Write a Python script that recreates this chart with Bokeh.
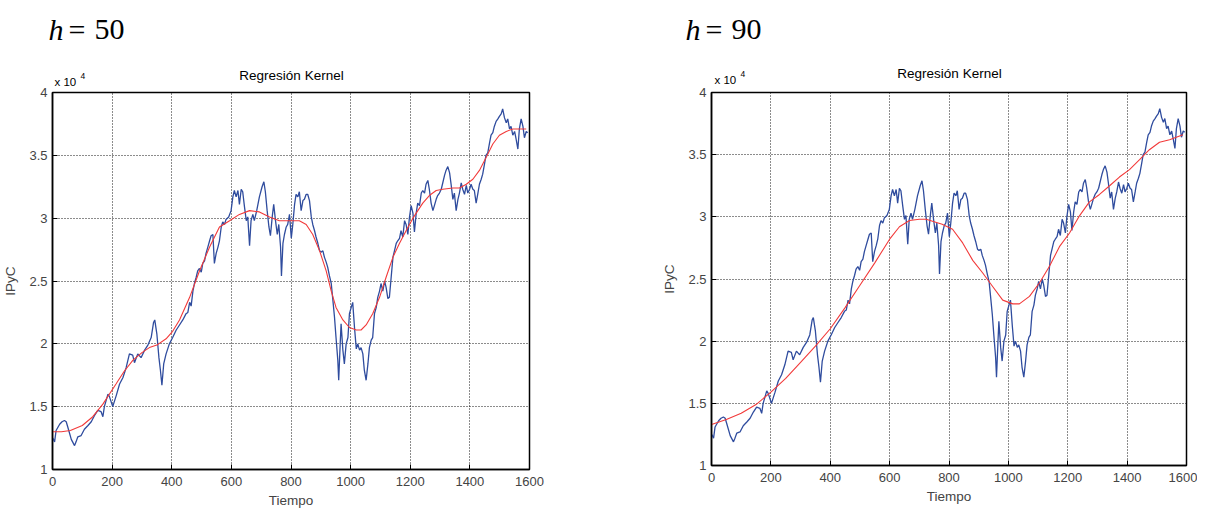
from bokeh.plotting import figure
from bokeh.layouts import row, column
from bokeh.models import FixedTicker, NumeralTickFormatter, Range1d
from bokeh.core.properties import value
from bokeh.embed import file_html
from bokeh.resources import INLINE

# ---- data (IPyC in units of 10^4) ----
tiempo = [1, 7, 12, 24, 32, 40, 46, 51, 63, 74, 79, 85, 96, 107, 119, 130, 141, 152, 163, 169,
          174, 186, 191, 202, 214, 225, 236, 247, 258, 269, 275, 286, 297, 309, 320, 331, 339, 343,
          350, 357, 362, 367, 373, 381, 392, 403, 415, 426, 437, 448, 454, 460, 465, 471, 476, 482,
          487, 493, 499, 504, 510, 515, 521, 527, 532, 538, 543, 549, 555, 560, 566, 571, 577, 582,
          591, 599, 605, 610, 616, 622, 627, 633, 638, 644, 650, 655, 661, 666, 672, 677, 685, 694,
          703, 709, 714, 720, 726, 731, 737, 742, 748, 754, 759, 765, 768, 773, 778, 784, 789, 795,
          801, 806, 812, 817, 823, 828, 834, 840, 845, 851, 856, 862, 868, 873, 879, 884, 890, 896,
          901, 907, 912, 918, 923, 929, 935, 940, 946, 951, 957, 960, 965, 968, 974, 979, 985, 991,
          996, 1002, 1007, 1013, 1019, 1024, 1030, 1035, 1041, 1046, 1052, 1058, 1063, 1069, 1074,
          1080, 1086, 1091, 1097, 1102, 1108, 1114, 1119, 1125, 1130, 1136, 1142, 1147, 1153, 1158,
          1164, 1169, 1175, 1181, 1186, 1192, 1197, 1203, 1209, 1214, 1220, 1225, 1231, 1237, 1242,
          1248, 1253, 1259, 1264, 1270, 1276, 1281, 1287, 1292, 1298, 1304, 1309, 1315, 1320, 1326,
          1332, 1337, 1343, 1348, 1354, 1360, 1365, 1371, 1376, 1382, 1388, 1393, 1399, 1404, 1410,
          1415, 1421, 1427, 1432, 1438, 1443, 1449, 1454, 1460, 1466, 1471, 1477, 1482, 1488, 1494,
          1499, 1505, 1510, 1516, 1522, 1527, 1533, 1538, 1544, 1550, 1555, 1561, 1566, 1572, 1578,
          1583, 1589, 1594]
ipyc = [1.25, 1.22, 1.31, 1.36, 1.38, 1.39, 1.38, 1.34, 1.24, 1.19, 1.22, 1.26, 1.27, 1.32, 1.35,
        1.38, 1.43, 1.47, 1.46, 1.42, 1.50, 1.60, 1.58, 1.50, 1.59, 1.68, 1.73, 1.81, 1.92, 1.91,
        1.85, 1.92, 1.89, 1.95, 1.99, 2.05, 2.17, 2.19, 2.08, 1.89, 1.79, 1.67, 1.84, 1.92, 2.00,
        2.05, 2.11, 2.15, 2.19, 2.24, 2.25, 2.33, 2.30, 2.42, 2.48, 2.53, 2.58, 2.60, 2.57, 2.64,
        2.66, 2.72, 2.77, 2.82, 2.86, 2.87, 2.64, 2.72, 2.77, 2.82, 2.93, 2.97, 2.95, 2.99, 3.01,
        3.06, 3.17, 3.22, 3.17, 3.22, 3.11, 3.23, 3.21, 3.09, 2.98, 3.01, 2.78, 2.98, 3.03, 2.98,
        3.06, 3.17, 3.25, 3.29, 3.21, 3.06, 2.93, 2.86, 3.01, 3.11, 2.98, 2.87, 2.95, 2.77, 2.54,
        2.80, 2.87, 2.93, 2.95, 3.03, 2.84, 2.95, 3.11, 3.19, 3.17, 3.21, 3.06, 3.14, 3.15, 3.19,
        3.19, 3.14, 3.01, 2.95, 2.90, 2.85, 2.80, 2.74, 2.73, 2.74, 2.69, 2.65, 2.61, 2.54, 2.48,
        2.36, 2.21, 2.05, 1.87, 1.71, 2.00, 2.16, 1.95, 1.84, 2.00, 2.05, 2.24, 2.29, 2.33, 2.13,
        1.96, 2.00, 1.95, 1.97, 1.92, 1.79, 1.71, 1.84, 1.97, 2.03, 2.05, 2.24, 2.29, 2.37, 2.42,
        2.48, 2.42, 2.50, 2.45, 2.36, 2.37, 2.53, 2.69, 2.74, 2.80, 2.82, 2.84, 2.90, 2.85, 2.98,
        2.95, 2.87, 3.00, 3.10, 3.04, 2.89, 3.04, 3.12, 3.10, 3.20, 3.22, 3.20, 3.27, 3.30, 3.23,
        3.12, 3.06, 3.10, 3.15, 3.18, 3.20, 3.23, 3.28, 3.34, 3.38, 3.41, 3.36, 3.27, 3.15, 3.20,
        3.06, 3.15, 3.20, 3.28, 3.23, 3.19, 3.26, 3.20, 3.23, 3.27, 3.23, 3.22, 3.12, 3.20, 3.27,
        3.31, 3.35, 3.43, 3.50, 3.52, 3.60, 3.66, 3.68, 3.73, 3.77, 3.79, 3.81, 3.83, 3.87, 3.80,
        3.76, 3.79, 3.71, 3.73, 3.66, 3.69, 3.63, 3.55, 3.71, 3.79, 3.73, 3.64, 3.69, 3.68]

t_h50 = [0, 30, 60, 100, 135, 169, 213, 240, 270, 300, 325, 350, 381, 403, 426, 460, 493, 527,
         560, 594, 627, 661, 694, 728, 761, 795, 828, 851, 873, 896, 918, 935, 951, 974, 996, 1019,
         1035, 1052, 1074, 1097, 1119, 1142, 1164, 1186, 1209, 1220, 1242, 1264, 1287, 1309, 1343,
         1365, 1388, 1410, 1432, 1454, 1477, 1499, 1522, 1544, 1566, 1589]
k_h50 = [1.30, 1.30, 1.31, 1.35, 1.42, 1.52, 1.68, 1.78, 1.87, 1.93, 1.97, 1.99, 2.04, 2.10, 2.19,
         2.37, 2.58, 2.77, 2.93, 2.98, 3.03, 3.06, 3.05, 3.01, 2.98, 2.98, 2.98, 2.95, 2.87, 2.74,
         2.58, 2.42, 2.29, 2.19, 2.13, 2.11, 2.11, 2.15, 2.24, 2.37, 2.53, 2.69, 2.80, 2.90, 3.00,
         3.04, 3.12, 3.18, 3.22, 3.23, 3.24, 3.24, 3.27, 3.31, 3.38, 3.48, 3.59, 3.66, 3.69, 3.71,
         3.71, 3.71]

t_h90 = [0, 50, 100, 150, 200, 250, 300, 350, 400, 450, 500, 550, 600, 633, 667, 700, 723, 777,
         812, 846, 880, 913, 947, 981, 1015, 1037, 1071, 1105, 1138, 1172, 1206, 1240, 1273, 1307,
         1341, 1374, 1408, 1442, 1475, 1509, 1543, 1588]
k_h90 = [1.33, 1.37, 1.42, 1.49, 1.59, 1.70, 1.83, 1.96, 2.10, 2.27, 2.45, 2.63, 2.82, 2.92, 2.97,
         2.98, 2.98, 2.94, 2.90, 2.79, 2.65, 2.55, 2.44, 2.33, 2.30, 2.30, 2.36, 2.47, 2.60, 2.76,
         2.87, 3.01, 3.12, 3.18, 3.25, 3.32, 3.38, 3.46, 3.54, 3.60, 3.62, 3.66]

x_ticks = [0, 200, 400, 600, 800, 1000, 1200, 1400, 1600]
y_ticks = [1, 1.5, 2, 2.5, 3, 3.5, 4]

BLUE = "#2f4c9e"
RED = "#f23a3a"
SANS = "Liberation Sans"
SERIF = "Liberation Serif"

# ---- header strip (pixel coordinates from the page's top-left corner) ----
HEAD_W, HEAD_H = 1190, 86

hd = figure(frame_width=HEAD_W, frame_height=HEAD_H, x_range=Range1d(0, HEAD_W),
            y_range=Range1d(HEAD_H, 0), output_backend="svg", toolbar_location=None,
            x_axis_type=None, y_axis_type=None, min_border=0, outline_line_color=None,
            title=None)
hd.xgrid.visible = False
hd.ygrid.visible = False
for hx, num in ((48, "50"), (685, "90")):
    hd.text(x=[hx], y=[29], text=["h"], text_font=value(SERIF), text_font_size=value("30px"),
            text_font_style="italic", text_baseline="alphabetic", text_align="left",
            text_color="black")
    hd.text(x=[hx + 20, hx + 46], y=[29, 29], text=["=", num], text_font=value(SERIF),
            text_font_size=value("30px"), text_baseline="alphabetic", text_align="left",
            text_color="black")
for tx, ty in ((291, 75), (949, 73)):
    hd.text(x=[tx], y=[ty], text=["Regresión Kernel"], text_font=value(SANS),
            text_font_size=value("13.5px"), text_baseline="middle", text_align="center",
            text_color="black")
for xx, xy in ((54, 81), (714, 79)):
    hd.text(x=[xx], y=[xy], text=["x 10"], text_font=value(SANS),
            text_font_size=value("11.5px"), text_baseline="middle", text_align="left",
            text_color="black")
    hd.text(x=[xx + 26], y=[xy - 6], text=["4"], text_font=value(SANS),
            text_font_size=value("8.5px"), text_baseline="middle", text_align="left",
            text_color="black")


def panel(red_t, red_v, fw, fh, bl, br, bt, bb):
    p = figure(frame_width=fw, frame_height=fh, x_range=(0, 1600), y_range=(1, 4),
               output_backend="svg", toolbar_location=None, title=None,
               min_border_left=bl, min_border_right=br, min_border_top=bt, min_border_bottom=bb,
               background_fill_color="white", border_fill_color="white")

    p.line(tiempo, ipyc, line_color=BLUE, line_width=1.3)
    p.line(red_t, red_v, line_color=RED, line_width=1.1)

    for ax in (p.xaxis[0], p.yaxis[0]):
        ax.major_label_text_font = SANS
        ax.major_label_text_font_size = "13px"
        ax.axis_label_text_font = SANS
        ax.axis_label_text_font_size = "13.5px"
        ax.axis_label_text_font_style = "normal"
        ax.major_tick_in = 5
        ax.major_tick_out = 0
        ax.minor_tick_in = 0
        ax.minor_tick_out = 0
        ax.axis_line_color = "black"
        ax.axis_line_width = 1.5
        ax.major_tick_line_color = "black"
    p.xaxis[0].ticker = FixedTicker(ticks=x_ticks)
    p.yaxis[0].ticker = FixedTicker(ticks=y_ticks)
    p.yaxis[0].formatter = NumeralTickFormatter(format="0.[0]")
    p.xaxis[0].axis_label = "Tiempo"
    p.yaxis[0].axis_label = "IPyC"
    p.xaxis[0].major_label_standoff = 7
    p.xaxis[0].axis_label_standoff = 4
    p.yaxis[0].major_label_standoff = 5
    p.yaxis[0].axis_label_standoff = 8

    p.outline_line_color = "black"
    p.outline_line_width = 1.5
    p.outline_line_alpha = 1

    p.xgrid.ticker = FixedTicker(ticks=x_ticks)
    p.ygrid.ticker = FixedTicker(ticks=y_ticks)
    for g in (p.xgrid[0], p.ygrid[0]):
        g.grid_line_color = "black"
        g.grid_line_dash = "1 2"
        g.grid_line_width = 1
        g.grid_line_alpha = 0.9
    return p


p1 = panel(t_h50, k_h50, 477, 377, 47, 108, 6, 40)
p2 = panel(t_h90, k_h90, 475, 373, 74, 11, 4, 46)

layout = column(hd, row(p1, p2, spacing=0), spacing=0)
open("out.html", "w").write(file_html(layout, INLINE))
